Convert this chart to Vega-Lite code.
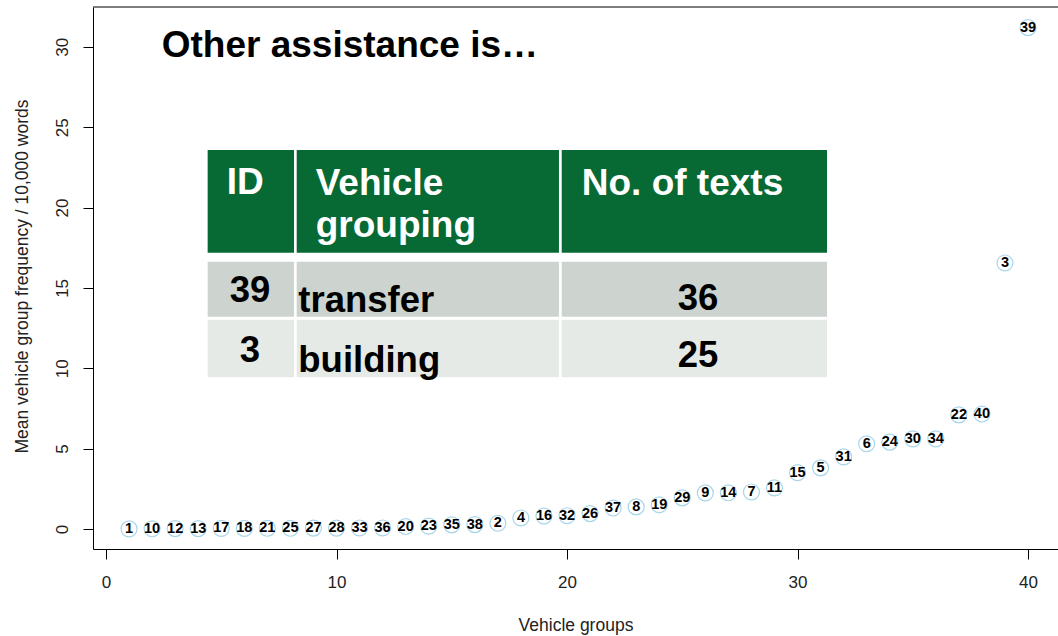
{
  "$schema": "https://vega.github.io/schema/vega-lite/v6.json",
  "width": 965,
  "height": 542,
  "autosize": {"type": "none"},
  "padding": {"left": 93, "top": 7, "right": 0, "bottom": 87},
  "background": "white",
  "config": {
    "view": {"stroke": null},
    "font": "Liberation Sans",
    "axis": {"grid": false, "domainColor": "#000", "domainWidth": 1, "tickColor": "#000", "tickWidth": 1, "tickSize": 10, "labelColor": "#222", "titleColor": "#222", "labelFontSize": 17, "titleFontSize": 17.5, "titleFontWeight": "normal", "labelFont": "Liberation Sans", "titleFont": "Liberation Sans"}
  },
  "data": {"values": [
    {"rank": 1, "id": "1", "freq": 0.0},
    {"rank": 2, "id": "10", "freq": 0.01},
    {"rank": 3, "id": "12", "freq": 0.02},
    {"rank": 4, "id": "13", "freq": 0.02},
    {"rank": 5, "id": "17", "freq": 0.03},
    {"rank": 6, "id": "18", "freq": 0.03},
    {"rank": 7, "id": "21", "freq": 0.04},
    {"rank": 8, "id": "25", "freq": 0.04},
    {"rank": 9, "id": "27", "freq": 0.05},
    {"rank": 10, "id": "28", "freq": 0.05},
    {"rank": 11, "id": "33", "freq": 0.06},
    {"rank": 12, "id": "36", "freq": 0.06},
    {"rank": 13, "id": "20", "freq": 0.15},
    {"rank": 14, "id": "23", "freq": 0.17},
    {"rank": 15, "id": "35", "freq": 0.25},
    {"rank": 16, "id": "38", "freq": 0.27},
    {"rank": 17, "id": "2", "freq": 0.35},
    {"rank": 18, "id": "4", "freq": 0.68},
    {"rank": 19, "id": "16", "freq": 0.8},
    {"rank": 20, "id": "32", "freq": 0.82},
    {"rank": 21, "id": "26", "freq": 0.95},
    {"rank": 22, "id": "37", "freq": 1.3},
    {"rank": 23, "id": "8", "freq": 1.37},
    {"rank": 24, "id": "19", "freq": 1.5},
    {"rank": 25, "id": "29", "freq": 1.93},
    {"rank": 26, "id": "9", "freq": 2.24},
    {"rank": 27, "id": "14", "freq": 2.25},
    {"rank": 28, "id": "7", "freq": 2.3},
    {"rank": 29, "id": "11", "freq": 2.55},
    {"rank": 30, "id": "15", "freq": 3.5},
    {"rank": 31, "id": "5", "freq": 3.8},
    {"rank": 32, "id": "31", "freq": 4.48},
    {"rank": 33, "id": "6", "freq": 5.3},
    {"rank": 34, "id": "24", "freq": 5.4},
    {"rank": 35, "id": "30", "freq": 5.6},
    {"rank": 36, "id": "34", "freq": 5.6},
    {"rank": 37, "id": "22", "freq": 7.1},
    {"rank": 38, "id": "40", "freq": 7.15},
    {"rank": 39, "id": "3", "freq": 16.55},
    {"rank": 40, "id": "39", "freq": 31.2}
  ]},
  "layer": [
    {
      "mark": {"type": "circle", "filled": false, "stroke": "#a9d5ea", "strokeWidth": 1.2, "size": 254, "opacity": 1},
      "encoding": {
        "x": {"field": "rank", "type": "quantitative",
          "scale": {"domain": [-0.564, 41.3], "nice": false, "zero": false},
          "axis": {"values": [0, 10, 20, 30, 40], "labelPadding": 15, "title": "Vehicle groups", "titleY": 81, "titleBaseline": "alphabetic"}},
        "y": {"field": "freq", "type": "quantitative",
          "scale": {"domain": [-1.25, 32.48], "nice": false, "zero": false},
          "axis": {"values": [0, 5, 10, 15, 20, 25, 30], "labelAngle": 270, "labelAlign": "center", "labelBaseline": "middle", "labelPadding": 21, "title": "Mean vehicle group frequency / 10,000 words", "titleAngle": 270, "titleX": -71, "titleY": 269, "titleAlign": "center", "titleBaseline": "middle"}}
      }
    },
    {
      "mark": {"type": "text", "font": "Liberation Sans", "fontWeight": "bold", "fontSize": 14.5, "color": "#000", "align": "center", "baseline": "middle"},
      "encoding": {
        "x": {"field": "rank", "type": "quantitative"},
        "y": {"field": "freq", "type": "quantitative"},
        "text": {"field": "id"}
      }
    },
    {
      "data": {"values": [{}]},
      "mark": {"type": "rule", "color": "#000", "strokeWidth": 1},
      "encoding": {"y": {"datum": 32.48}}
    },
    {
      "data": {"values": [{}]},
      "mark": {"type": "text", "font": "Liberation Sans", "fontWeight": "bold", "fontSize": 37, "color": "#000", "align": "left", "baseline": "alphabetic", "text": "Other assistance is…"},
      "encoding": {"x": {"datum": 2.416}, "y": {"datum": 29.39}}
    },
    {"data": {"values": [{}]}, "mark": {"type": "rect", "color": "#076934"}, "encoding": {"x": {"datum": 4.41}, "x2": {"datum": 8.156}, "y": {"datum": 23.58}, "y2": {"datum": 17.19}}},
    {"data": {"values": [{}]}, "mark": {"type": "rect", "color": "#076934"}, "encoding": {"x": {"datum": 8.273}, "x2": {"datum": 19.65}, "y": {"datum": 23.58}, "y2": {"datum": 17.19}}},
    {"data": {"values": [{}]}, "mark": {"type": "rect", "color": "#076934"}, "encoding": {"x": {"datum": 19.77}, "x2": {"datum": 31.28}, "y": {"datum": 23.58}, "y2": {"datum": 17.19}}},
    {"data": {"values": [{}]}, "mark": {"type": "rect", "color": "#cdd3ce"}, "encoding": {"x": {"datum": 4.41}, "x2": {"datum": 8.156}, "y": {"datum": 16.63}, "y2": {"datum": 13.21}}},
    {"data": {"values": [{}]}, "mark": {"type": "rect", "color": "#cdd3ce"}, "encoding": {"x": {"datum": 8.273}, "x2": {"datum": 19.65}, "y": {"datum": 16.63}, "y2": {"datum": 13.21}}},
    {"data": {"values": [{}]}, "mark": {"type": "rect", "color": "#cdd3ce"}, "encoding": {"x": {"datum": 19.77}, "x2": {"datum": 31.28}, "y": {"datum": 16.63}, "y2": {"datum": 13.21}}},
    {"data": {"values": [{}]}, "mark": {"type": "rect", "color": "#e6eae7"}, "encoding": {"x": {"datum": 4.41}, "x2": {"datum": 8.156}, "y": {"datum": 13.01}, "y2": {"datum": 9.44}}},
    {"data": {"values": [{}]}, "mark": {"type": "rect", "color": "#e6eae7"}, "encoding": {"x": {"datum": 8.273}, "x2": {"datum": 19.65}, "y": {"datum": 13.01}, "y2": {"datum": 9.44}}},
    {"data": {"values": [{}]}, "mark": {"type": "rect", "color": "#e6eae7"}, "encoding": {"x": {"datum": 19.77}, "x2": {"datum": 31.28}, "y": {"datum": 13.01}, "y2": {"datum": 9.44}}},
    {"data": {"values": [{}]}, "mark": {"type": "text", "font": "Liberation Sans", "fontWeight": "bold", "fontSize": 37, "color": "#fff", "align": "left", "baseline": "alphabetic", "text": "ID"}, "encoding": {"x": {"datum": 5.236}, "y": {"datum": 20.85}}},
    {"data": {"values": [{}]}, "mark": {"type": "text", "font": "Liberation Sans", "fontWeight": "bold", "fontSize": 37, "color": "#fff", "align": "left", "baseline": "alphabetic", "text": "Vehicle"}, "encoding": {"x": {"datum": 9.098}, "y": {"datum": 20.78}}},
    {"data": {"values": [{}]}, "mark": {"type": "text", "font": "Liberation Sans", "fontWeight": "bold", "fontSize": 37, "color": "#fff", "align": "left", "baseline": "alphabetic", "text": "grouping"}, "encoding": {"x": {"datum": 9.098}, "y": {"datum": 18.17}}},
    {"data": {"values": [{}]}, "mark": {"type": "text", "font": "Liberation Sans", "fontWeight": "bold", "fontSize": 37, "color": "#fff", "align": "left", "baseline": "alphabetic", "text": "No. of texts"}, "encoding": {"x": {"datum": 20.64}, "y": {"datum": 20.78}}},
    {"data": {"values": [{}]}, "mark": {"type": "text", "font": "Liberation Sans", "fontWeight": "bold", "fontSize": 36.5, "color": "#000", "align": "center", "baseline": "alphabetic", "text": "39"}, "encoding": {"x": {"datum": 6.247}, "y": {"datum": 14.14}}},
    {"data": {"values": [{}]}, "mark": {"type": "text", "font": "Liberation Sans", "fontWeight": "bold", "fontSize": 36.5, "color": "#000", "align": "left", "baseline": "alphabetic", "text": "transfer"}, "encoding": {"x": {"datum": 8.343}, "y": {"datum": 13.52}}},
    {"data": {"values": [{}]}, "mark": {"type": "text", "font": "Liberation Sans", "fontWeight": "bold", "fontSize": 36.5, "color": "#000", "align": "center", "baseline": "alphabetic", "text": "36"}, "encoding": {"x": {"datum": 25.68}, "y": {"datum": 13.63}}},
    {"data": {"values": [{}]}, "mark": {"type": "text", "font": "Liberation Sans", "fontWeight": "bold", "fontSize": 36.5, "color": "#000", "align": "center", "baseline": "alphabetic", "text": "3"}, "encoding": {"x": {"datum": 6.247}, "y": {"datum": 10.41}}},
    {"data": {"values": [{}]}, "mark": {"type": "text", "font": "Liberation Sans", "fontWeight": "bold", "fontSize": 36.5, "color": "#000", "align": "left", "baseline": "alphabetic", "text": "building"}, "encoding": {"x": {"datum": 8.343}, "y": {"datum": 9.79}}},
    {"data": {"values": [{}]}, "mark": {"type": "text", "font": "Liberation Sans", "fontWeight": "bold", "fontSize": 36.5, "color": "#000", "align": "center", "baseline": "alphabetic", "text": "25"}, "encoding": {"x": {"datum": 25.68}, "y": {"datum": 10.05}}}
  ]
}
